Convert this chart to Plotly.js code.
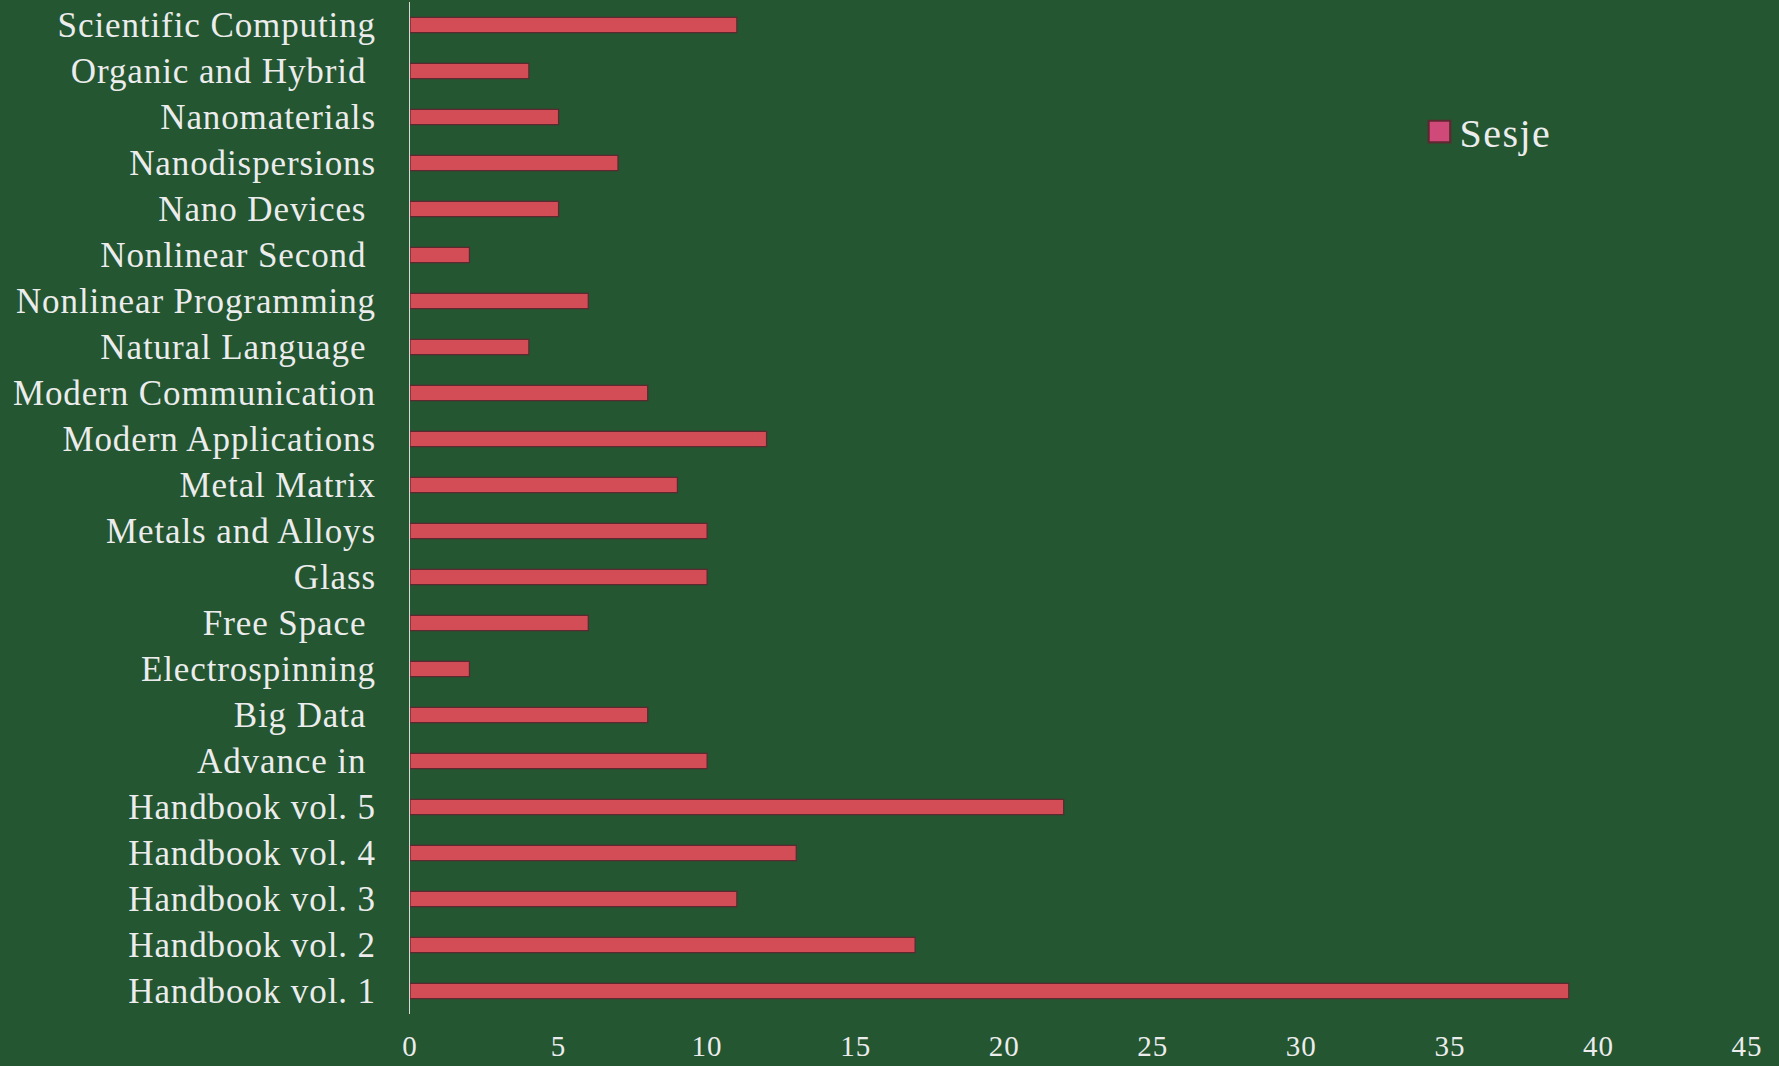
<!DOCTYPE html>
<html>
<head>
<meta charset="utf-8">
<script src="https://cdn.plot.ly/plotly-3.0.1.min.js"></script>
<style>
html,body{margin:0;padding:0;background:#235631;}
#chart{width:1779px;height:1066px;}
#chart .ytick text{letter-spacing:0.9px;}
#chart .xtick text{letter-spacing:1px;}
#chart .legendtext{letter-spacing:1.5px;}
</style>
</head>
<body>
<div id="chart"></div>
<script>
// Categories, top to bottom as shown
const categories = [
  "Scientific Computing",
  "Organic and Hybrid\u00a0",
  "Nanomaterials",
  "Nanodispersions",
  "Nano Devices\u00a0",
  "Nonlinear Second\u00a0",
  "Nonlinear Programming",
  "Natural Language\u00a0",
  "Modern Communication",
  "Modern Applications",
  "Metal Matrix",
  "Metals and Alloys",
  "Glass",
  "Free Space\u00a0",
  "Electrospinning",
  "Big Data\u00a0",
  "Advance in\u00a0",
  "Handbook vol. 5",
  "Handbook vol. 4",
  "Handbook vol. 3",
  "Handbook vol. 2",
  "Handbook vol. 1"
];
const sesje = [11, 4, 5, 7, 5, 2, 6, 4, 8, 12, 9, 10, 10, 6, 2, 8, 10, 22, 13, 11, 17, 39];
const xTicks = [0, 5, 10, 15, 20, 25, 30, 35, 40, 45];
const seriesName = "Sesje";

const fontFamily = '"Liberation Serif", "DejaVu Serif", serif';
const textColor = '#ececec';

const trace = {
  type: 'bar',
  orientation: 'h',
  name: seriesName,
  y: categories,
  x: sesje,
  marker: {color: '#d34d57', line: {color: '#5e2830', width: 1.2}},
  hoverinfo: 'x+y'
};

const layout = {
  width: 1779,
  height: 1066,
  paper_bgcolor: '#235631',
  plot_bgcolor: '#235631',
  margin: {l: 410, r: 32, t: 2, b: 52, pad: 0},
  bargap: 0.67,
  showlegend: true,
  legend: {
    x: 0.755, y: 0.872, xanchor: 'left', yanchor: 'middle',
    bgcolor: 'rgba(0,0,0,0)',
    font: {family: fontFamily, size: 40, color: textColor}
  },
  xaxis: {
    range: [0, 45],
    tickvals: xTicks,
    ticktext: xTicks.map(String),
    showgrid: false,
    zeroline: false,
    showline: false,
    ticks: 'outside',
    ticklen: 6,
    tickcolor: 'rgba(0,0,0,0)',
    tickfont: {family: fontFamily, size: 29, color: textColor},
    fixedrange: true
  },
  yaxis: {
    type: 'category',
    categoryorder: 'array',
    categoryarray: categories,
    autorange: 'reversed',
    showgrid: false,
    zeroline: false,
    showline: true,
    linecolor: '#d8d8d8',
    linewidth: 1,
    ticks: 'outside',
    ticklen: 26,
    tickcolor: 'rgba(0,0,0,0)',
    tickfont: {family: fontFamily, size: 35, color: textColor},
    automargin: false,
    fixedrange: true
  }
};

Plotly.newPlot('chart', [trace], layout, {displayModeBar: false, staticPlot: true}).then(gd => {
  const p = gd.querySelector('.legendpoints path');
  if (p) {
    const t = p.getAttribute('transform') || '';
    p.setAttribute('transform', t + ' scale(1.8)');
    p.style.fill = '#cf4a78';
  }
});
</script>
</body>
</html>
